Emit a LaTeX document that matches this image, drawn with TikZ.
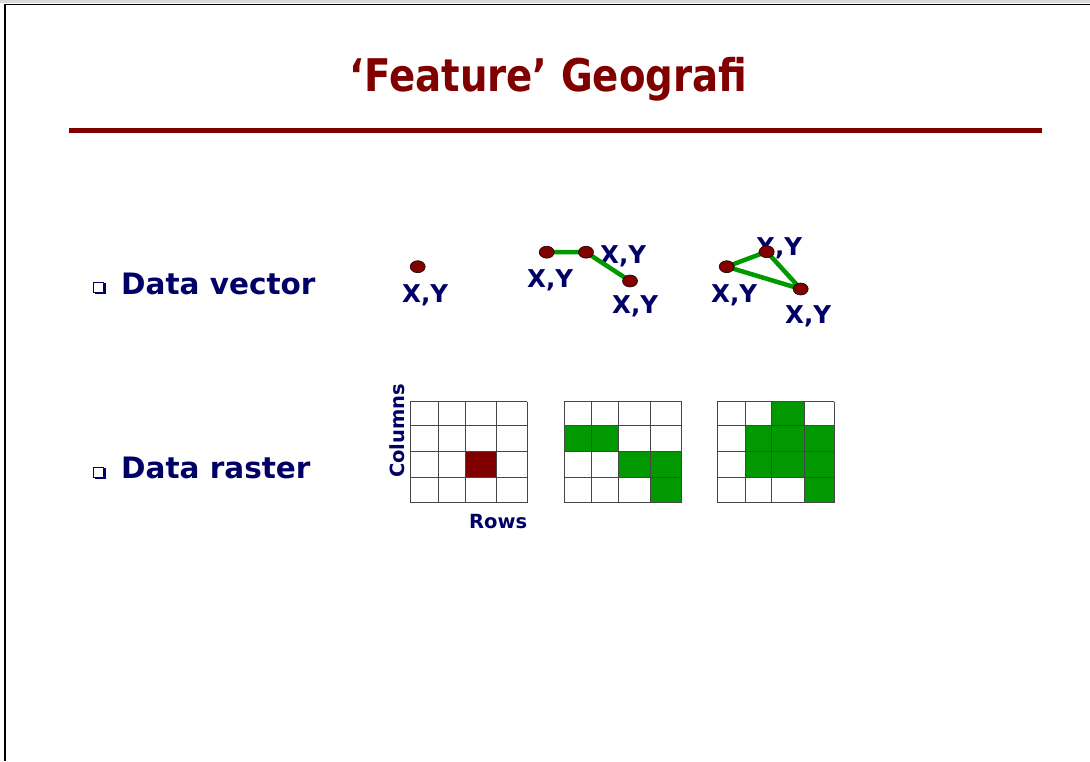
\documentclass[tikz,border=0pt]{standalone}
\usepackage{fontspec}
\setmainfont{DejaVu Sans}
\usetikzlibrary{shapes.geometric}
\definecolor{navy}{RGB}{0,0,102}
\definecolor{dred}{RGB}{128,0,0}
\definecolor{gr}{RGB}{0,153,0}
\definecolor{gridc}{RGB}{70,70,70}
\pgfdeclarelayer{bg}
\pgfdeclarelayer{lab}
\pgfdeclarelayer{lin}
\pgfsetlayers{bg,lab,lin,main}
\tikzset{
  lbl/.style={inner sep=0pt, anchor=base west, text=navy, font=\fontsize{24.5}{28}\selectfont\bfseries},
  body/.style={inner sep=0pt, anchor=base west, text=navy, font=\fontsize{29.5}{36}\selectfont\bfseries},
  small/.style={inner sep=0pt, anchor=base west, text=navy, font=\fontsize{19.5}{22}\selectfont\bfseries},
  vpt/.style={ellipse, minimum width=15pt, minimum height=12pt, inner sep=0pt, fill=dred, draw=black!80!dred, line width=0.6pt},
  gline/.style={draw=gr, line width=4.5pt},
  gridl/.style={draw=gridc, line width=1pt},
  greencell/.style={fill=gr},
  redcell/.style={fill=dred},
}
\begin{document}
\begin{tikzpicture}[x=1pt, y=-1pt]
\useasboundingbox (0,0) rectangle (1090,761);
\begin{pgfonlayer}{bg}
\fill[white] (0,0) rectangle (1090,761);
\fill[black!15] (0,0) rectangle (1090,3);
\end{pgfonlayer}
% slide frame
\draw[line width=1.6pt] (1090,4.5) -- (5,4.5) -- (5,761);
% title
\node[inner sep=0pt, anchor=base, text=dred, xscale=0.86, font=\fontsize{45}{50}\selectfont\bfseries] (title) at (548.5,91.7) {‘Feature’ Geografi};
\draw[dred, line width=5pt] (69,130.5) -- (1042,130.5);
% bullets
\fill[navy] (94.5,283.2) rectangle (105.5,294.2);
\filldraw[fill=white, draw=navy, line width=0.8pt] (93.5,282.2) rectangle (103.5,292.2);
\node[body] (dv) at (121,294.3) {Data vector};
\fill[navy] (94.5,468.2) rectangle (105.5,479.2);
\filldraw[fill=white, draw=navy, line width=0.8pt] (93.5,467.2) rectangle (103.5,477.2);
\node[body] (dr) at (121,478.3) {Data raster};
% vector points
\node[vpt] (p1) at (417.7,266.7) {};
\node[vpt] (l1) at (546.7,252.2) {};
\node[vpt] (l2) at (586,252.2) {};
\node[vpt] (l3) at (630,281) {};
\node[vpt] (t1) at (726.7,266.7) {};
\node[vpt] (t2) at (766.7,251.7) {};
\node[vpt] (t3) at (800.7,289) {};
\begin{pgfonlayer}{lab}
\node[lbl] (xp1) at (402,302) {X,Y};
\node[lbl] (xl1) at (527,287) {X,Y};
\node[lbl] (xl2) at (600,263) {X,Y};
\node[lbl] (xl3) at (612,313) {X,Y};
\node[lbl] (xt2) at (756,255) {X,Y};
\node[lbl] (xt1) at (711,302) {X,Y};
\node[lbl] (xt3) at (785,323) {X,Y};
\end{pgfonlayer}
\begin{pgfonlayer}{lin}
\draw[gline] (l1.center) -- (l2.center) -- (l3.center);
\draw[gline, line join=round] (t1.center) -- (t2.center) -- (t3.center) -- cycle;
\end{pgfonlayer}
% raster grid 1
\fill[redcell] (465,451.7) rectangle (496.7,477.7);
\foreach \y in {401.7,425,451.7,477.7,502.7} \draw[gridl] (410,\y) -- (527.3,\y);
\foreach \x in {410,438.3,465,496.7,527.3} \draw[gridl] (\x,401.7) -- (\x,502.7);
% raster grid 2
\fill[greencell] (564,425) rectangle (618.3,451.7);
\fill[greencell] (618.3,451.7) rectangle (681.7,477.7);
\fill[greencell] (650,477.7) rectangle (681.7,502.7);
\foreach \y in {401.7,425,451.7,477.7,502.7} \draw[gridl] (564,\y) -- (681.7,\y);
\foreach \x in {564,591.7,618.3,650,681.7} \draw[gridl] (\x,401.7) -- (\x,502.7);
% raster grid 3
\fill[greencell] (771.7,401.7) rectangle (804,425);
\fill[greencell] (745,425) rectangle (834.3,477.7);
\fill[greencell] (804,477.7) rectangle (834.3,502.7);
\foreach \y in {401.7,425,451.7,477.7,502.7} \draw[gridl] (717.3,\y) -- (834.3,\y);
\foreach \x in {717.3,745,771.7,804,834.3} \draw[gridl] (\x,401.7) -- (\x,502.7);
% axis labels
\node[small, rotate=90] (cols) at (404,478) {Columns};
\node[small] (rows) at (469,528.5) {Rows};
\end{tikzpicture}
\end{document}
